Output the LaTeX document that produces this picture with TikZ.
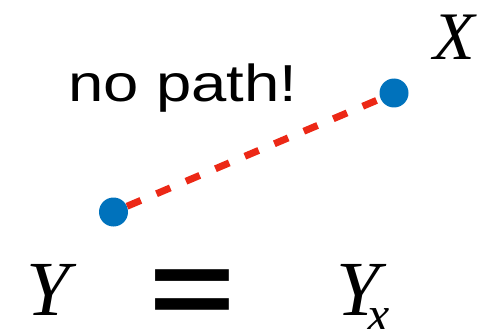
\documentclass[tikz,border=0pt]{standalone}
\usepackage{fontspec}
\setmainfont{Liberation Serif}
\newfontfamily\lsans{Liberation Sans}
\newfontfamily\lsansb{Liberation Sans Bold}
\definecolor{dotblue}{RGB}{0,114,188}
\definecolor{dashred}{RGB}{236,40,22}
\begin{document}
\begin{tikzpicture}[x=1pt,y=-1pt,
  dot/.style={circle,fill=dotblue,inner sep=0pt,minimum size=29pt},
  redline/.style={draw=dashred,line width=7pt,dash pattern=on 15pt off 17pt},
  lbl/.style={inner sep=0pt,anchor=base west}]
\useasboundingbox (0,0) rectangle (493,329);
\node[dot] (y) at (113.5,212) {};
\node[dot] (x) at (394,93) {};
\draw[redline] (y) -- (x);
\node[lbl,xscale=1.22] (np) at (68,102) {\fontsize{52}{52}\selectfont\lsans no path!};
\node[lbl] (xl) at (433,60) {\fontsize{68}{68}\selectfont\itshape X};
\node[lbl] (yl) at (26,315) {\fontsize{78}{78}\selectfont\itshape Y};
\node[lbl,yscale=0.73] (eq) at (149,325.5) {\fontsize{147}{147}\selectfont\lsansb =};
\node[lbl] (yx) at (336,315) {\fontsize{78}{78}\selectfont\itshape Y};
\node[lbl] (sub) at (367,331) {\fontsize{50}{50}\selectfont\itshape x};
\end{tikzpicture}
\end{document}
